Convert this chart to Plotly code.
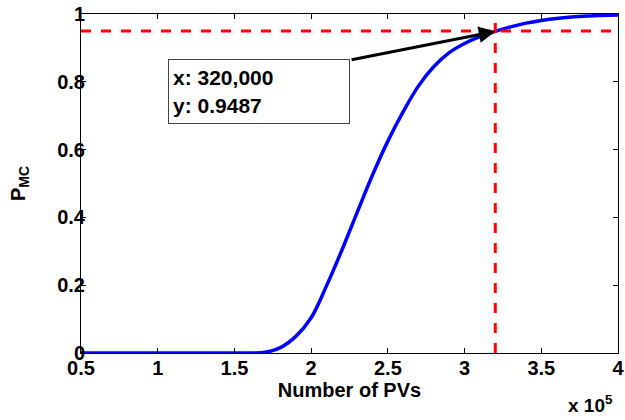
import plotly.graph_objects as go

# Data
num_pvs = [50000, 100000, 150000, 160000, 170000, 180000, 190000, 200000, 210000,
           220000, 230000, 240000, 250000, 260000, 270000, 280000, 290000, 300000,
           310000, 320000, 330000, 340000, 350000, 360000, 380000, 400000]
p_mc = [0.0, 0.0, 0.0, 0.0, 0.002, 0.016, 0.049, 0.104, 0.198,
        0.303, 0.415, 0.525, 0.625, 0.712, 0.788, 0.845, 0.886, 0.913,
        0.933, 0.9487, 0.962, 0.973, 0.981, 0.987, 0.994, 0.997]

x_ticks = [50000, 100000, 150000, 200000, 250000, 300000, 350000, 400000]
x_tick_labels = ["0.5", "1", "1.5", "2", "2.5", "3", "3.5", "4"]
y_ticks = [0, 0.2, 0.4, 0.6, 0.8, 1]
y_tick_labels = ["0", "0.2", "0.4", "0.6", "0.8", "1"]

marked_x = 320000
marked_y = 0.9487
threshold = 0.95

FONT = "Liberation Sans"

fig = go.Figure()
fig.add_trace(go.Scatter(x=num_pvs, y=p_mc, mode="lines",
                         line=dict(color="#0000FF", width=3.5, shape="spline", smoothing=1.0),
                         showlegend=False, hoverinfo="skip"))
fig.add_trace(go.Scatter(x=[x_ticks[0], x_ticks[-1]], y=[threshold, threshold], mode="lines",
                         line=dict(color="#FF0000", width=3, dash="10px,10px"),
                         showlegend=False, hoverinfo="skip"))
fig.add_trace(go.Scatter(x=[marked_x, marked_x], y=[y_ticks[0], y_ticks[-1]], mode="lines",
                         line=dict(color="#FF0000", width=3, dash="10px,10px"),
                         showlegend=False, hoverinfo="skip"))

axis_common = dict(showline=True, linecolor="black", linewidth=1, mirror="ticks",
                   ticks="inside", ticklen=5, tickcolor="black", tickwidth=1,
                   showgrid=False, zeroline=False, automargin=False,
                   ticklabeloverflow="allow",
                   tickfont=dict(family=FONT, size=20, color="black"))

fig.update_xaxes(range=[x_ticks[0], x_ticks[-1]], tickvals=x_ticks,
                 ticktext=[f"<b>{t}</b>" for t in x_tick_labels],
                 ticklabelstandoff=-3,
                 title=dict(text="<b>Number of PVs</b>", font=dict(family=FONT, size=20, color="black"),
                            standoff=4),
                 **axis_common)
fig.update_yaxes(range=[y_ticks[0], y_ticks[-1]], tickvals=y_ticks,
                 ticktext=[f"<b>{t}</b>" for t in y_tick_labels],
                 ticklabelstandoff=-9,
                 title=dict(text="<b>P<sub>MC</sub></b>", font=dict(family=FONT, size=20, color="black"),
                            standoff=26),
                 **axis_common)

# arrow
fig.add_annotation(x=marked_x, y=marked_y, xref="x", yref="y",
                   ax=225400, ay=0.864, axref="x", ayref="y",
                   text="", showarrow=True, arrowhead=2, arrowsize=1.1,
                   arrowwidth=3, arrowcolor="black", standoff=0)
# data tip box
fig.add_annotation(x=165700, y=0.771, xref="x", yref="y", showarrow=False,
                   text=f"<b>x: {marked_x:,}</b><br><b>y: {marked_y:.4f}</b>",
                   align="left", xanchor="center", yanchor="middle",
                   width=172, height=55, borderpad=4,
                   bgcolor="white", bordercolor="#444444", borderwidth=1,
                   font=dict(family=FONT, size=21, color="black"))
# exponent label
fig.add_annotation(x=0.994, y=-0.150, xref="paper", yref="paper", showarrow=False,
                   text="<b>x 10<sup>5</sup></b>", xanchor="right", yanchor="middle",
                   font=dict(family=FONT, size=19, color="black"))

fig.update_layout(width=625, height=420, margin=dict(l=81, r=7, t=14, b=67),
                  paper_bgcolor="white", plot_bgcolor="white")

# remove the default 8px page margin so the figure fills the window exactly
fig.write_html("out.html", config={"displayModeBar": False},
               post_script="document.body.style.margin='0';document.body.style.overflow='hidden';")
